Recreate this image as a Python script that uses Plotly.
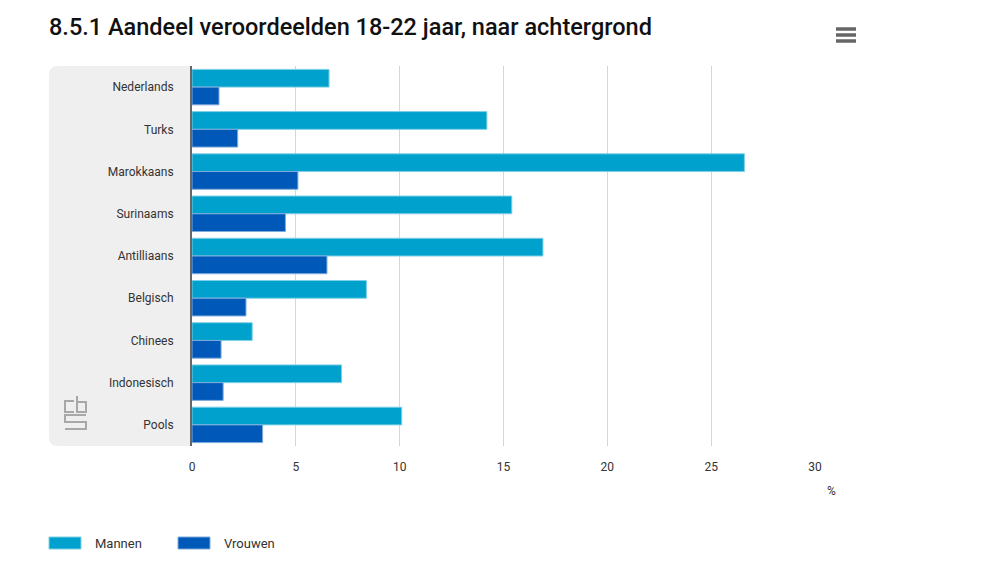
import plotly.graph_objects as go

categories = ["Nederlands", "Turks", "Marokkaans", "Surinaams", "Antilliaans",
              "Belgisch", "Chinees", "Indonesisch", "Pools"]
mannen = [6.6, 14.2, 26.6, 15.4, 16.9, 8.4, 2.9, 7.2, 10.1]
vrouwen = [1.3, 2.2, 5.1, 4.5, 6.5, 2.6, 1.4, 1.5, 3.4]
x_ticks = [0, 5, 10, 15, 20, 25, 30]
series_names = ["Mannen", "Vrouwen"]
series_colors = ["#00a1cd", "#0058b8"]
border_colors = ["#7fd0e6", "#7fabdb"]

W, H = 983, 570
L, R, T, B = 192, 168, 66, 124
pw, ph = W - L - R, H - T - B


def px(x):
    return (x - L) / pw


def py(y):
    return 1 - (y - T) / ph


fig = go.Figure()
for name, vals, col, bcol in zip(series_names, [mannen, vrouwen], series_colors, border_colors):
    fig.add_trace(go.Bar(y=categories, x=vals, name=name, orientation="h",
                         showlegend=False,
                         marker=dict(color=col, line=dict(color=bcol, width=1))))

# gray label panel with rounded left corners
x0 = px(49)
rx, ry = 9 / pw, 9 / ph
path = (f"M 0,0 L {x0+rx},0 Q {x0},0 {x0},{ry} L {x0},{1-ry} "
        f"Q {x0},1 {x0+rx},1 L 0,1 Z")
shapes = [dict(type="path", xref="paper", yref="paper", path=path,
               fillcolor="#efefef", line=dict(width=0), layer="below")]
# hamburger menu icon
for yy in [29, 35, 41]:
    shapes.append(dict(type="line", xref="paper", yref="paper",
                       x0=px(836), x1=px(856), y0=py(yy), y1=py(yy),
                       line=dict(color="#666666", width=3.5)))

# cbs logo (approximate outline)
logo = [
    [(74, 401), (65, 401), (65, 412), (74, 412)],
    [(77, 396), (77, 412), (86, 412), (86, 402), (77, 402)],
    [(86, 415), (65, 415), (65, 422), (86, 422), (86, 429), (65, 429)],
]
for pts in logo:
    p = "M " + " L ".join(f"{px(a)},{py(b)}" for a, b in pts)
    shapes.append(dict(type="path", xref="paper", yref="paper", path=p,
                       line=dict(color="#a8a8a8", width=2)))

annotations = [dict(text="%", xref="paper", yref="paper", x=px(832), y=py(491),
                    xanchor="center", yanchor="middle", showarrow=False,
                    font=dict(size=12, color="#333333"))]

# custom legend
legend_x = [49, 178]
for lx, name, col, bcol in zip(legend_x, series_names, series_colors, border_colors):
    shapes.append(dict(type="rect", xref="paper", yref="paper",
                       x0=px(lx), x1=px(lx + 32), y0=py(549), y1=py(537),
                       fillcolor=col, line=dict(color=bcol, width=1)))
    annotations.append(dict(text=name, xref="paper", yref="paper", x=px(lx + 44),
                            y=py(543), xanchor="left", yanchor="middle",
                            showarrow=False, font=dict(size=13, color="#333333")))

fig.update_layout(
    width=W, height=H,
    margin=dict(l=L, r=R, t=T, b=B, pad=0),
    paper_bgcolor="white", plot_bgcolor="white",
    barmode="group", bargap=0.16, bargroupgap=0.0,
    font=dict(family="Roboto", size=12, color="#333333"),
    title=dict(text="8.5.1 Aandeel veroordeelden 18-22 jaar, naar achtergrond",
               xref="container", yref="container", x=49 / W, xanchor="left",
               y=1 - 27 / H, yanchor="middle",
               font=dict(family="Roboto", size=23.5, color="#111111", weight=500)),
    xaxis=dict(range=[0, 30], tickvals=x_ticks, showgrid=True, gridcolor="#d6d6d6",
               gridwidth=1, zeroline=False, showline=False, ticks="",
               ticklabelstandoff=12, tickfont=dict(size=12, color="#333333"),
               fixedrange=True),
    yaxis=dict(autorange="reversed", showline=True, linecolor="#666666", linewidth=2,
               ticks="", ticklabelstandoff=14, tickfont=dict(size=12, color="#333333"),
               showgrid=False),
    showlegend=False,
    shapes=shapes,
    annotations=annotations,
)

fig.write_html("out.html")
